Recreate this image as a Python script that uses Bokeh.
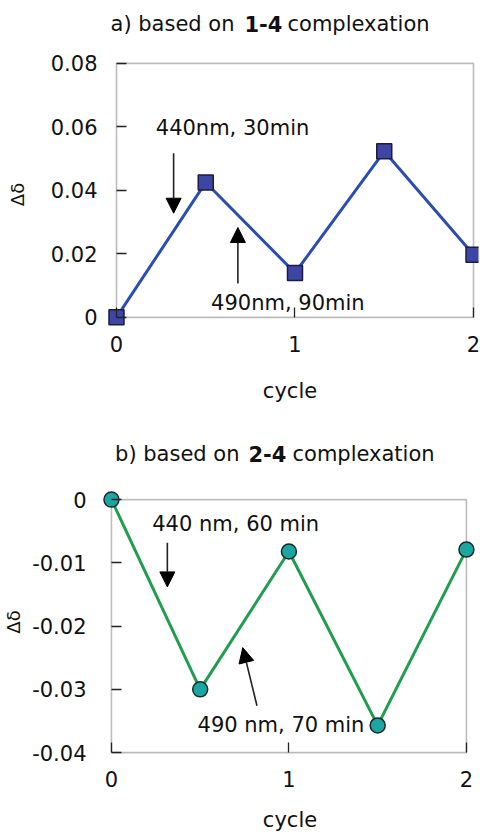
from bokeh.plotting import figure
from bokeh.models import (Label, Arrow, NormalHead, BoxAnnotation, FixedTicker,
                          CustomJSTickFormatter, Range1d, LinearAxis)
from bokeh.layouts import column
from bokeh.embed import file_html
from bokeh.resources import INLINE

# ---------------- data ----------------
cycle = [0, 0.5, 1, 1.5, 2]
dd_a = [0.0, 0.0425, 0.0140, 0.0523, 0.0197]
dd_b = [0.0, -0.0300, -0.0082, -0.0357, -0.0079]

x_ticks = [0, 1, 2]
y_ticks_a = [0, 0.02, 0.04, 0.06, 0.08]
y_ticks_b = [-0.04, -0.03, -0.02, -0.01, 0]

title_a = ["a) based on", "1-4", "complexation"]
title_b = ["b) based on", "2-4", "complexation"]
ann_a = ["440nm, 30min", "490nm, 90min"]
ann_b = ["440 nm, 60 min", "490 nm, 70 min"]

FONT = "DejaVu Sans"
TXT = "#111111"
FMT = "return tick == 0 ? '0' : tick.toFixed(2);"
LEFT, RIGHT = 101, 2          # common frame borders (column aligns frames)


def title_fig(parts, xs):
    t = figure(width=480, height=45, x_range=Range1d(LEFT, 480 - RIGHT),
               y_range=Range1d(0, 45),
               x_axis_location=None, y_axis_location=None,
               output_backend="svg", toolbar_location=None,
               min_border_left=LEFT, min_border_right=RIGHT,
               min_border_top=0, min_border_bottom=0)
    t.grid.visible = False
    t.outline_line_color = None
    t.border_fill_color = "white"
    aligns = ["right", "left", "left"]
    styles = ["normal", "bold", "normal"]
    for txt, x, al, st in zip(parts, xs, aligns, styles):
        t.add_layout(Label(x=x, y=22, text=txt, text_align=al, text_baseline="middle",
                           text_font=FONT, text_font_style=st, text_font_size="21px",
                           text_color=TXT))
    return t


def make_panel(height, xr, yr, top, bottom, ylo, yhi, yticks, ystand, ylab_stand,
               xstand, xlab_stand):
    xlo = x_ticks[0]
    p = figure(width=480, height=height, x_range=Range1d(*xr), y_range=Range1d(*yr),
               output_backend="svg", toolbar_location=None,
               min_border_left=LEFT, min_border_right=RIGHT,
               min_border_top=top, min_border_bottom=bottom)
    p.outline_line_color = None
    p.grid.visible = False
    p.background_fill_color = "white"
    p.border_fill_color = "white"
    p.add_layout(BoxAnnotation(left=xlo, right=x_ticks[-1], bottom=ylo, top=yhi,
                               fill_alpha=0, line_color="#222222", line_width=1.6,
                               level="underlay"))
    # label-carrying axes at the frame edge (no ticks / lines)
    xa = p.xaxis[0]
    ya = p.yaxis[0]
    xa.ticker = FixedTicker(ticks=x_ticks)
    ya.ticker = FixedTicker(ticks=yticks)
    ya.formatter = CustomJSTickFormatter(code=FMT)
    for ax in (xa, ya):
        ax.axis_line_color = None
        ax.major_tick_line_color = None
        ax.minor_tick_line_color = None
        ax.major_tick_in = 0
        ax.major_tick_out = 0
        ax.major_label_text_font = FONT
        ax.major_label_text_font_size = "21px"
        ax.major_label_text_color = TXT
        ax.axis_label_text_font = FONT
        ax.axis_label_text_font_style = "normal"
        ax.axis_label_text_color = TXT
    xa.axis_label = "cycle"
    xa.axis_label_text_font_size = "21px"
    xa.major_label_standoff = xstand
    xa.axis_label_standoff = xlab_stand
    ya.axis_label = "Δδ"
    ya.axis_label_text_font_size = "18px"
    ya.major_label_standoff = ystand
    ya.axis_label_standoff = ylab_stand
    # tick-only axes fixed on the box edges
    tx = LinearAxis(fixed_location=ylo, ticker=FixedTicker(ticks=x_ticks),
                    formatter=CustomJSTickFormatter(code="return '';"))
    ty = LinearAxis(fixed_location=xlo, ticker=FixedTicker(ticks=yticks),
                    formatter=CustomJSTickFormatter(code="return '';"))
    for ax in (tx, ty):
        ax.axis_line_color = None
        ax.minor_tick_line_color = None
        ax.major_tick_in = 10
        ax.major_tick_out = 0
        ax.major_tick_line_color = "#222222"
        ax.major_tick_line_width = 1.3
        ax.major_label_standoff = 0
    p.add_layout(tx, "below")
    p.add_layout(ty, "left")
    return p


def ann_label(p, x, y, text):
    p.add_layout(Label(x=x, y=y, text=text, text_align="left", text_baseline="middle",
                       text_font=FONT, text_font_size="21px", text_color=TXT))


def arrow(p, xs, ys, xe, ye):
    p.add_layout(Arrow(end=NormalHead(size=15, fill_color="black", line_color="black"),
                       x_start=xs, y_start=ys, x_end=xe, y_end=ye,
                       line_color="#222222", line_width=1.6))


# ---------------- panel a ----------------
ta = title_fig(title_a, [234, 244, 287])
pa = make_panel(385, (-0.084, 2.028), (-0.0032, 0.0806), 16, 103,
                0, 0.08, y_ticks_a, 4, 20, 8, 24)
pa.line(cycle, dd_a, line_color="#2b4db3", line_width=3)
pa.scatter(cycle, dd_a, marker="square", size=15, fill_color="#3d45a5",
           line_color="#1c1c40", line_width=1.5)
ann_label(pa, 0.22, 0.0595, ann_a[0])
ann_label(pa, 0.53, 0.0044, ann_a[1])
arrow(pa, 0.32, 0.0517, 0.32, 0.0328)
arrow(pa, 0.68, 0.0107, 0.68, 0.0283)

# ---------------- panel b ----------------
tb = title_fig(title_b, [239, 248, 292])
pb = make_panel(361, (-0.056, 2.068), (-0.0403, 0.0016), 14, 82,
                -0.04, 0, y_ticks_b, 15, 5, 16, 18)
pb.line(cycle, dd_b, line_color="#1f9e50", line_width=3)
pb.scatter(cycle, dd_b, marker="circle", size=15, fill_color="#1ba5a3",
           line_color="#1a2a2a", line_width=1.5)
ann_label(pb, 0.23, -0.0038, ann_b[0])
ann_label(pb, 0.485, -0.0357, ann_b[1])
arrow(pb, 0.315, -0.0068, 0.315, -0.0138)
arrow(pb, 0.82, -0.0326, 0.74, -0.0234)

layout = column(ta, pa, tb, pb, spacing=0)
open("out.html", "w").write(file_html(layout, INLINE))
